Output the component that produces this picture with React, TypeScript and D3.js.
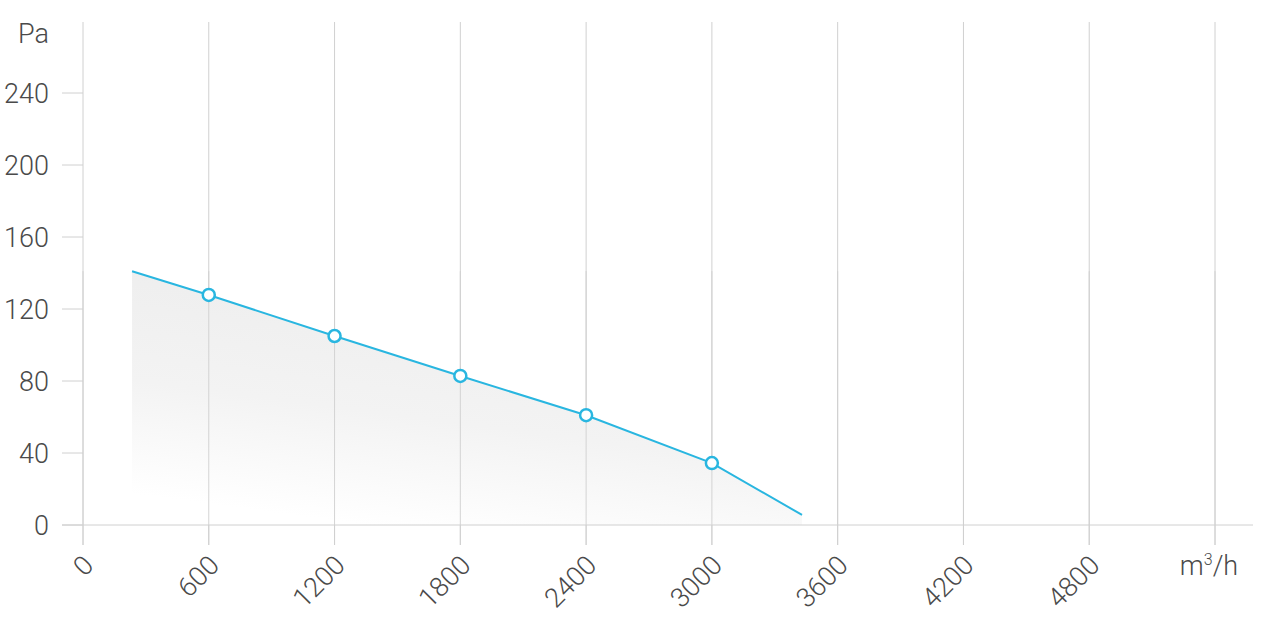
import React from "react";
import * as d3 from "d3";

const flowValues = [234, 600, 1200, 1800, 2400, 3000, 3430];
const pressureValues = [141, 127.8, 105, 82.8, 61, 34.4, 5.6];
const markerIndices = [1, 2, 3, 4, 5];
const xTickValues = [0, 600, 1200, 1800, 2400, 3000, 3600, 4200, 4800];
const xUnitValue = 5400;
const yTickValues = [0, 40, 80, 120, 160, 200, 240];
const yUnitValue = 280;
const xUnitLabel = "m³/h";
const yUnitLabel = "Pa";

const W = 1263;
const H = 618;

export default function App() {
  const x = d3.scaleLinear().domain([0, 5400]).range([83, 1215]);
  const y = d3.scaleLinear().domain([0, 240]).range([525, 93]);
  const pts = flowValues.map((f, i) => [f, pressureValues[i]] as [number, number]);
  const line = d3.line<[number, number]>().x((d) => x(d[0])).y((d) => y(d[1]));
  const area = d3
    .area<[number, number]>()
    .x((d) => x(d[0]))
    .y0(y(0))
    .y1((d) => y(d[1]));
  const font = "Roboto, 'Noto Sans', sans-serif";
  const textColor = "#4a4a4a";
  const gridColor = "#d0d0d0";
  const blue = "#29b6e0";
  const fs = 27;
  const allX = [...xTickValues, xUnitValue];
  return (
    <svg
      width={W}
      height={H}
      style={{ position: "absolute", left: 0, top: 0, background: "#fff" }}
    >
      <defs>
        <linearGradient id="fillGrad" x1="0.7" y1="0" x2="0.35" y2="1">
          <stop offset="0" stopColor="#ececec" />
          <stop offset="0.6" stopColor="#f3f3f3" />
          <stop offset="1" stopColor="#ffffff" />
        </linearGradient>
      </defs>
      {allX.map((v) => (
        <line
          key={"vx" + v}
          x1={x(v)}
          x2={x(v)}
          y1={22}
          y2={545}
          stroke={gridColor}
          strokeWidth={1}
        />
      ))}
      <path d={area(pts) || ""} fill="url(#fillGrad)" />
      {allX.map((v) => (
        <line
          key={"vx2" + v}
          x1={x(v)}
          x2={x(v)}
          y1={y(pressureValues[0])}
          y2={545}
          stroke={gridColor}
          strokeWidth={1}
          opacity={0.9}
        />
      ))}
      <line x1={62} x2={1253} y1={y(0)} y2={y(0)} stroke={gridColor} strokeWidth={1} />
      {yTickValues.map((v) => (
        <g key={"yt" + v}>
          <line x1={62} x2={83} y1={y(v)} y2={y(v)} stroke={gridColor} strokeWidth={1} />
          <text
            x={49}
            y={y(v) + 10}
            textAnchor="end"
            fontFamily={font}
            fontWeight={300}
            fontSize={fs}
            fill={textColor}
          >
            {v}
          </text>
        </g>
      ))}
      <text
        x={49}
        y={y(yUnitValue) + 22}
        textAnchor="end"
        fontFamily={font}
        fontWeight={300}
        fontSize={fs}
        fill={textColor}
      >
        {yUnitLabel}
      </text>
      {xTickValues.map((v) => (
        <text
          key={"xt" + v}
          transform={`translate(${x(v) + 12},${567}) rotate(-45)`}
          textAnchor="end"
          fontFamily={font}
          fontWeight={300}
          fontSize={fs}
          fill={textColor}
        >
          {v}
        </text>
      ))}
      <text
        x={x(xUnitValue) - 6}
        y={575}
        textAnchor="middle"
        fontFamily={font}
        fontWeight={300}
        fontSize={fs}
        fill={textColor}
      >
        m<tspan fontSize={16} dy={-10}>3</tspan>
        <tspan dy={10}>/h</tspan>
      </text>
      <path d={line(pts) || ""} fill="none" stroke={blue} strokeWidth={2} />
      {markerIndices.map((i) => (
        <circle
          key={"m" + i}
          cx={x(flowValues[i])}
          cy={y(pressureValues[i])}
          r={6}
          fill="#fff"
          stroke={blue}
          strokeWidth={2.5}
        />
      ))}
    </svg>
  );
}
